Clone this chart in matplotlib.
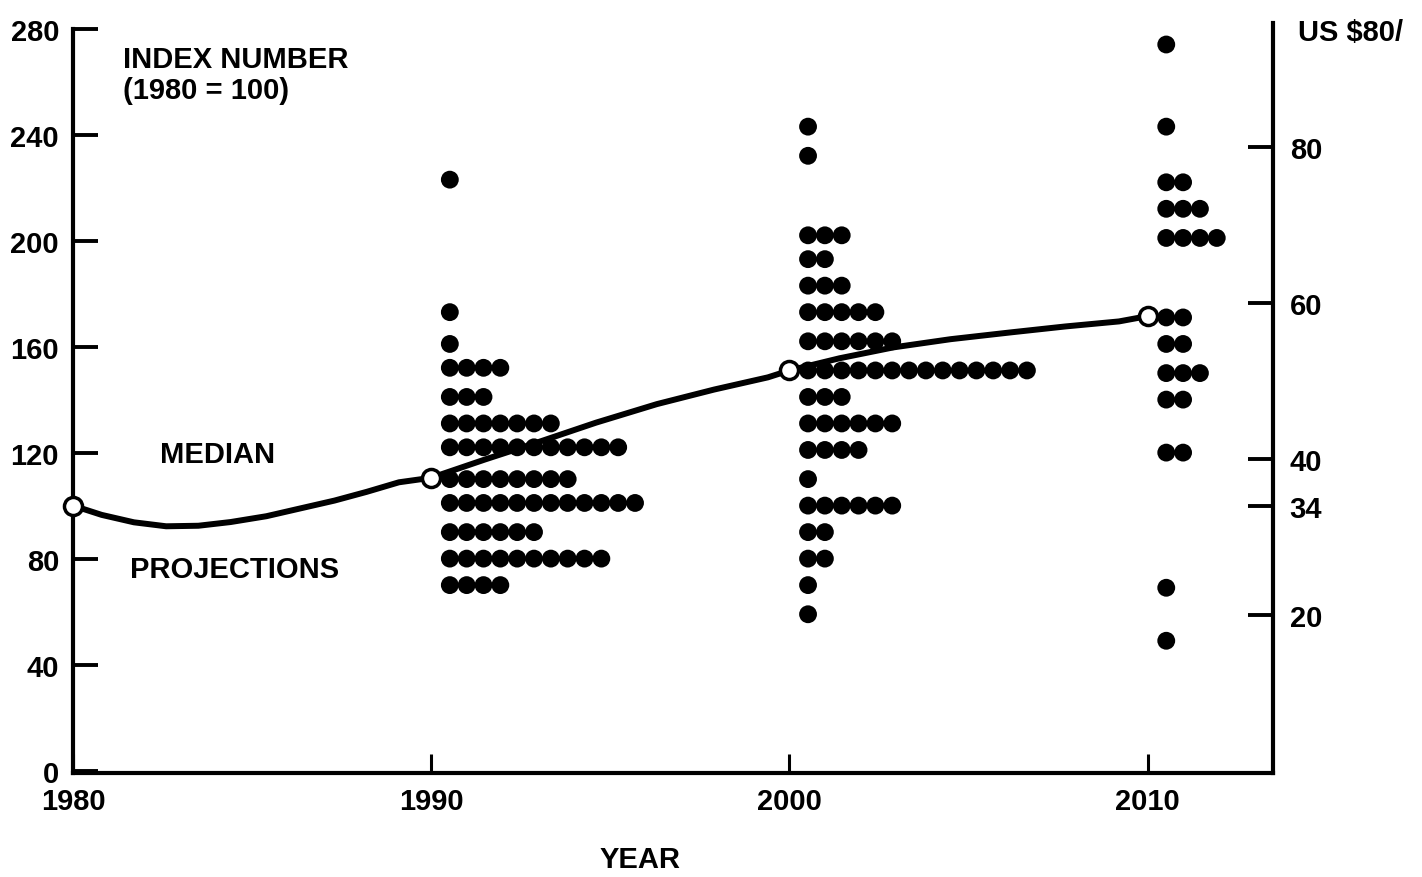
import matplotlib
matplotlib.use('Agg')
import matplotlib.pyplot as plt

plt.rcParams['font.family'] = ['Liberation Sans', 'DejaVu Sans']
plt.rcParams['font.weight'] = 'bold'

# ---- data ----
median_years = [1980, 1980.8, 1981.7, 1982.6, 1983.5, 1984.4, 1985.4, 1986.3,
                1987.3, 1988.2, 1989.1, 1990,
                1991.5, 1993.0, 1994.6, 1996.3, 1997.9, 1999.4, 2000,
                2001.4, 2002.9, 2004.5, 2006.2, 2007.7, 2009.2, 2010]
median_values = [100, 96.5, 93.7, 92.2, 92.4, 93.8, 96.0, 98.8,
                 101.9, 105.2, 108.8, 110.5,
                 117.4, 124.0, 131.3, 138.3, 143.8, 148.4, 151,
                 155.6, 159.7, 162.8, 165.4, 167.6, 169.5, 171.5]
median_marker_years = [1980, 1990, 2000, 2010]
median_marker_values = [100, 110.5, 151, 171.5]

proj_1990_values = [223, 173, 161, 152, 141, 131, 122, 110, 101, 90, 80, 70]
proj_1990_counts = [1, 1, 1, 4, 3, 7, 11, 8, 12, 6, 10, 4]

proj_2000_values = [243, 232, 202, 193, 183, 173, 162, 151, 141, 131, 121,
                    110, 100, 90, 80, 70, 59]
proj_2000_counts = [1, 1, 3, 2, 3, 5, 6, 14, 3, 6, 4, 1, 6, 2, 2, 1, 1]

proj_2010_values = [274, 243, 222, 212, 201, 171, 161, 150, 140, 120, 69, 49]
proj_2010_counts = [1, 1, 2, 3, 4, 2, 2, 3, 2, 2, 1, 1]

columns = [(1990, proj_1990_values, proj_1990_counts),
           (2000, proj_2000_values, proj_2000_counts),
           (2010, proj_2010_values, proj_2010_counts)]

left_ticks = [0, 40, 80, 120, 160, 200, 240, 280]
x_ticks = [1980, 1990, 2000, 2010]
right_ticks = [20, 34, 40, 60, 80]
price_per_index = 0.34  # US$34 = index 100

# ---- figure ----
W, H = 1422, 878
fig = plt.figure(figsize=(W / 100, H / 100), dpi=100)
ax = fig.add_axes([73 / W, 1 - 774 / H, (1273 - 73) / W, (774 - 29.6) / H])

dot_offset = 0.52
dot_step = 0.47
for year, vals, counts in columns:
    xs, ys = [], []
    for v, c in zip(vals, counts):
        for i in range(c):
            xs.append(year + dot_offset + i * dot_step)
            ys.append(v)
    ax.scatter(xs, ys, s=165, color='black', edgecolors='none', zorder=3)

ax.plot(median_years, median_values, color='black', lw=4.3,
        solid_capstyle='round', solid_joinstyle='round', zorder=4)
ax.plot(median_marker_years, median_marker_values, linestyle='none',
        marker='o', markersize=13, markerfacecolor='white',
        markeredgecolor='black', markeredgewidth=2.5, zorder=5, clip_on=False)

ax.set_xlim(1980, 2013.5)
ax.set_ylim(-0.9, 280)

ax.spines['top'].set_visible(False)
ax.spines['right'].set_visible(False)
for s in ['left', 'bottom']:
    ax.spines[s].set_linewidth(3)

ax.set_yticks(left_ticks)
ax.set_yticklabels([str(t) for t in left_ticks])
ax.set_xticks(x_ticks)
ax.set_xticklabels([str(t) for t in x_ticks])
ax.tick_params(axis='y', direction='in', length=18, width=2.8,
               labelsize=21, pad=10)
ax.tick_params(axis='x', direction='in', length=14, width=2.2,
               labelsize=21, pad=10)

ax2 = ax.twinx()
lo, hi = ax.get_ylim()
ax2.set_ylim(lo * price_per_index, hi * price_per_index)
ax2.set_yticks(right_ticks)
ax2.set_yticklabels([str(t) for t in right_ticks])
for s in ['top', 'left', 'bottom']:
    ax2.spines[s].set_visible(False)
ax2.spines['right'].set_linewidth(3)
ax2.spines['right'].set_bounds(-0.9 * price_per_index, 282 * price_per_index)
ax2.tick_params(axis='y', direction='in', length=18, width=2.8,
                labelsize=21, pad=12)

def ftext(px, py, s, **kw):
    fig.text(px / W, 1 - py / H, s, fontsize=21, fontweight='bold', **kw)

ftext(123, 60, 'INDEX NUMBER', va='center', ha='left')
ftext(123, 91, '(1980 = 100)', va='center', ha='left')
ftext(160, 455, 'MEDIAN', va='center', ha='left')
ftext(130, 570, 'PROJECTIONS', va='center', ha='left')
ftext(640, 860, 'YEAR', va='center', ha='center')
ftext(1298, 33, 'US $80/', va='center', ha='left')

fig.savefig('out.png', dpi=100)
